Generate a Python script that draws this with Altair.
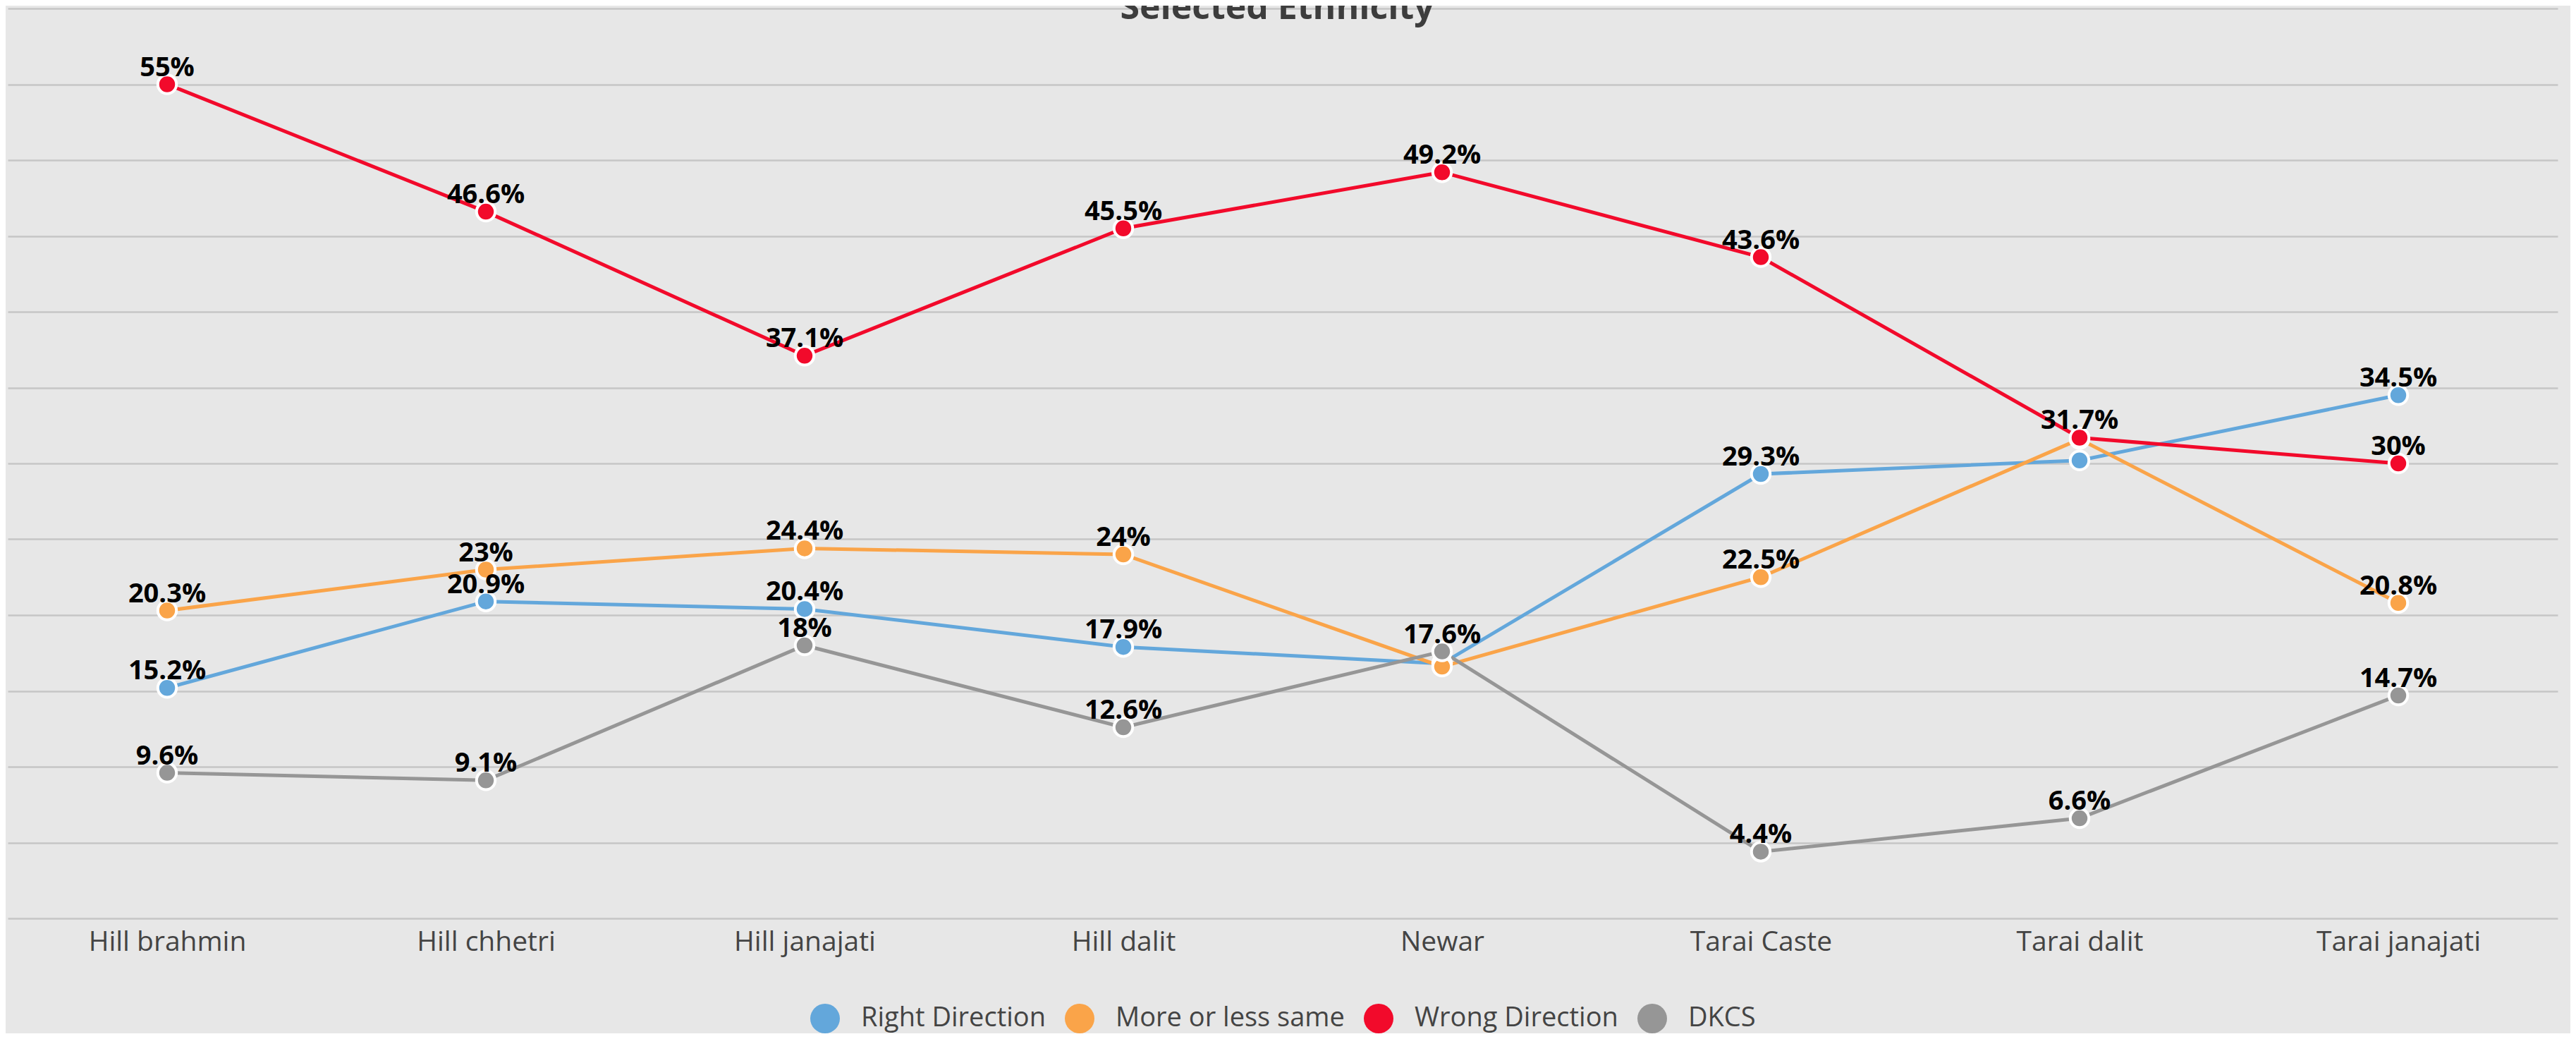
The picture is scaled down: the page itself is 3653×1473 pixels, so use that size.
import altair as alt
import pandas as pd

categories = ["Hill brahmin", "Hill chhetri", "Hill janajati", "Hill dalit",
              "Newar", "Tarai Caste", "Tarai dalit", "Tarai janajati"]
series_names = ["Right Direction", "More or less same", "Wrong Direction", "DKCS"]
series_colors = ["#63a7db", "#faa449", "#f20a2b", "#969696"]

right_direction = [15.2, 20.9, 20.4, 17.9, 16.8, 29.3, 30.2, 34.5]
more_or_less_same = [20.3, 23.0, 24.4, 24.0, 16.6, 22.5, 31.6, 20.8]
wrong_direction = [55.0, 46.6, 37.1, 45.5, 49.2, 43.6, 31.7, 30.0]
dkcs = [9.6, 9.1, 18.0, 12.6, 17.6, 4.4, 6.6, 14.7]

# data labels shown in the reference (1) or hidden by overlap (0)
right_shown = [1, 1, 1, 1, 0, 1, 0, 1]
same_shown = [1, 1, 1, 1, 0, 1, 0, 1]
wrong_shown = [1, 1, 1, 1, 1, 1, 1, 1]
dkcs_shown = [1, 1, 1, 1, 1, 1, 1, 1]

title_text = "Selected Ethnicity"

rows = []
for si, (name, vals, shown) in enumerate(zip(
        series_names,
        [right_direction, more_or_less_same, wrong_direction, dkcs],
        [right_shown, same_shown, wrong_shown, dkcs_shown])):
    for ci, (cat, v, s) in enumerate(zip(categories, vals, shown)):
        rows.append({
            "category": cat,
            "series": name,
            "line_series": name,
            "order": si,
            "value": v,
            "label": (f"{v:g}%" if s else ""),
        })
df = pd.DataFrame(rows)

FONT = "Open Sans"

x_enc = alt.X("category:N", sort=categories,
              scale=alt.Scale(type="point", padding=0.5),
              axis=alt.Axis(title=None, labelFontSize=39, labelColor="#444444",
                            labelFont=FONT, labelPadding=14, domain=False,
                            ticks=False, grid=False, labelAngle=0, labelLimit=600))
y_enc = alt.Y("value:Q", scale=alt.Scale(domain=[0, 60], nice=False, zero=True),
              axis=alt.Axis(title=None, labels=False, domain=False, ticks=False,
                            values=list(range(0, 61, 5)), grid=True,
                            gridColor="#c6c6c6", gridWidth=2.5))

base = alt.Chart(df)

lines = base.mark_line(strokeWidth=5).encode(
    x=x_enc,
    y=y_enc,
    stroke=alt.Stroke("line_series:N", sort=series_names,
                      scale=alt.Scale(range=series_colors),
                      legend=None),
    detail="series:N",
    order=alt.Order("order:Q"),
)

points = base.mark_point(filled=True, size=700, stroke="white", strokeWidth=4,
                         opacity=1, shape="circle").encode(
    x=alt.X("category:N", sort=categories),
    y=alt.Y("value:Q"),
    fill=alt.Fill("series:N", sort=series_names,
                  scale=alt.Scale(domain=series_names, range=series_colors),
                  legend=alt.Legend(title=None, orient="none", direction="horizontal",
                                    legendX=1138, legendY=1411,
                                    symbolType="circle", symbolSize=1764,
                                    symbolStrokeWidth=0, symbolOpacity=1,
                                    labelFontSize=38, labelColor="#444444",
                                    labelFont=FONT, labelOffset=30,
                                    columnPadding=27, labelLimit=0, padding=0)),
    order=alt.Order("order:Q"),
)

labels = base.mark_text(fontSize=38, fontWeight="bold", color="#000000",
                        font=FONT, baseline="alphabetic", dy=-12).encode(
    x=alt.X("category:N", sort=categories),
    y=alt.Y("value:Q"),
    text="label:N",
)

title_df = pd.DataFrame({"t": [title_text]})
title = alt.Chart(title_df).mark_text(fontSize=50, fontWeight="bold",
                                      color="#3d3d3d", font=FONT,
                                      baseline="alphabetic", align="center").encode(
    text="t:N",
    x=alt.value(1800),
    y=alt.value(15),
)

chart = alt.layer(lines, points, labels, title).properties(
    width=3616,
    height=1290,
    autosize=alt.AutoSizeParams(type="none"),
    padding={"left": 3, "top": 4, "right": 18, "bottom": 163},
    background="#e7e7e7",
).configure_view(stroke=None)

chart.save("out.html", embed_options={"renderer": "svg", "actions": False})
